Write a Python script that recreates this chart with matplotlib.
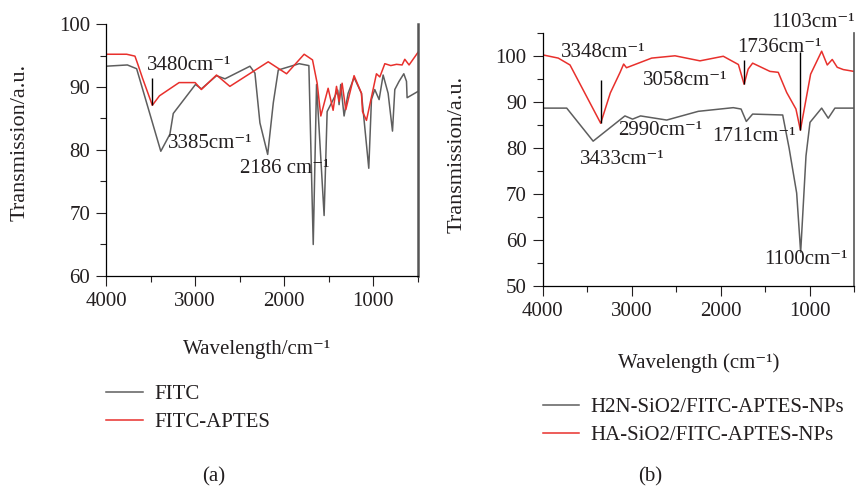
import numpy as np
import matplotlib
matplotlib.use("Agg")
import matplotlib.pyplot as plt
from matplotlib.ticker import MultipleLocator

plt.rcParams['font.family'] = ['Liberation Serif', 'DejaVu Serif']
plt.rcParams['font.size'] = 15
plt.rcParams['text.color'] = '#231f20'
plt.rcParams['axes.labelcolor'] = '#231f20'
plt.rcParams['xtick.color'] = '#231f20'
plt.rcParams['ytick.color'] = '#231f20'

# (a) FITC and FITC-APTES spectra
fitc_wn = [4000, 3760, 3656, 3385, 3283, 3245, 2996, 2930, 2760, 2665, 2385, 2329, 2273,
           2186, 2123, 2067, 1833, 1724, 1675, 1638, 1553, 1519, 1433, 1400, 1385, 1367,
           1329, 1284, 1217, 1134, 1052, 1022, 985, 936, 891, 835, 786, 760, 712, 659,
           629, 622, 500]
fitc_t = [93.3, 93.5, 92.9, 79.8, 82.5, 85.8, 90.4, 89.7, 91.8, 91.3, 93.3, 92.2, 84.3,
          79.3, 87.5, 92.7, 93.7, 93.4, 65.0, 90.4, 69.6, 86.1, 88.5, 89.5, 87.2, 90.4,
          85.4, 89.0, 91.5, 89.0, 77.1, 88.0, 89.6, 88.0, 91.9, 89.0, 83.0, 89.6, 90.9,
          92.1, 90.9, 88.3, 89.3]

aptes_wn = [4000, 3768, 3675, 3640, 3590, 3480, 3400, 3180, 3000, 2930, 2760, 2610, 2180,
            1974, 1777, 1683, 1631, 1590, 1508, 1452, 1414, 1385, 1351, 1310, 1217, 1134,
            1122, 1078, 966, 928, 872, 805, 741, 678, 648, 600, 500]
aptes_t = [95.2, 95.2, 94.9, 93.5, 91.4, 87.1, 88.6, 90.7, 90.7, 89.6, 91.9, 90.1, 94.0,
           92.1, 95.2, 94.3, 90.6, 85.4, 89.8, 86.3, 90.1, 87.7, 90.6, 86.4, 91.8, 89.0,
           86.1, 84.7, 92.1, 91.6, 93.7, 93.4, 93.6, 93.5, 94.4, 93.5, 95.5]

# (b) amino- and HA-modified silica nanoparticles
h2n_wn = [4000, 3730, 3433, 3076, 2990, 2900, 2606, 2251, 1858, 1770, 1711, 1640, 1302,
          1230, 1145, 1100, 1040, 995, 864, 790, 715, 500]
h2n_t = [88.7, 88.7, 81.5, 87.0, 86.3, 87.0, 86.1, 88.0, 88.8, 88.5, 85.8, 87.4, 87.2,
         80.0, 70.2, 57.3, 78.3, 85.6, 88.7, 86.5, 88.7, 88.7]

ha_wn = [4000, 3825, 3693, 3348, 3240, 3130, 3090, 3058, 2775, 2513, 2232, 1970, 1800,
         1736, 1690, 1640, 1445, 1352, 1257, 1153, 1103, 988, 864, 801, 745, 689, 621, 500]
ha_t = [100.3, 99.6, 98.1, 85.4, 92.0, 96.5, 98.3, 97.5, 99.6, 100.1, 99.0, 100.0, 98.2,
        93.9, 97.2, 98.5, 96.7, 96.5, 92.1, 88.5, 83.9, 96.1, 101.1, 98.1, 99.3, 97.6,
        97.1, 96.7]

# peak annotations: (wavenumber, series, text)
peaks_a = [(3480, 'aptes', '3480cm⁻¹'), (3385, 'fitc', '3385cm⁻¹'), (2186, 'fitc', '2186 cm⁻¹')]
peaks_b = [(3348, 'ha', '3348cm⁻¹'), (3058, 'ha', '3058cm⁻¹'), (2990, 'h2n', '2990cm⁻¹'),
           (3433, 'h2n', '3433cm⁻¹'), (1736, 'ha', '1736cm⁻¹'), (1103, 'ha', '1103cm⁻¹'),
           (1711, 'h2n', '1711cm⁻¹'), (1100, 'h2n', '1100cm⁻¹')]

GRAY = '#5e5e5e'
RED = '#e8302c'

series = {
    'fitc': (fitc_wn, fitc_t), 'aptes': (aptes_wn, aptes_t),
    'h2n': (h2n_wn, h2n_t), 'ha': (ha_wn, ha_t),
}


def value_at(key, wn):
    xs, ys = series[key]
    return np.interp(wn, xs[::-1], ys[::-1])


fig = plt.figure(figsize=(8.56, 4.87), dpi=100)
ax_a = fig.add_axes([0.1238, 0.4333, 0.3645, 0.5174])
ax_b = fig.add_axes([0.634, 0.4133, 0.3637, 0.5183])


def style_axes(ax, ylo, yhi):
    ax.set_xlim(4000, 500)
    ax.set_ylim(ylo, yhi)
    ax.xaxis.set_major_locator(MultipleLocator(1000))
    ax.xaxis.set_minor_locator(MultipleLocator(500))
    ax.yaxis.set_major_locator(MultipleLocator(10))
    ax.yaxis.set_minor_locator(MultipleLocator(5))
    ax.tick_params(which='major', direction='out', length=7.5, width=0.8, pad=4, labelsize=15)
    ax.tick_params(which='minor', direction='out', length=4, width=0.8)
    ax.spines['top'].set_visible(False)
    ax.spines['left'].set_linewidth(0.9)
    ax.spines['bottom'].set_linewidth(0.9)
    ax.spines['right'].set_color('#555555')


# panel (a)
ax_a.plot(fitc_wn, fitc_t, color=GRAY, lw=1.1, label='FITC')
ax_a.plot(aptes_wn, aptes_t, color=RED, lw=1.1, label='FITC-APTES')
style_axes(ax_a, 60, 100)
ax_a.spines['right'].set_linewidth(1.8)
ax_a.set_xlabel('Wavelength/cm⁻¹', fontsize=15)
ax_a.set_ylabel('Transmission/a.u.', fontsize=16)
ax_a.xaxis.set_label_coords(0.483, -0.255)
ax_a.yaxis.set_label_coords(-0.245, 0.53)

text_pos_a = [(3068, 93.4), (2835, 81.1), (1993, 77.1)]
pointer_a = {3480: 91.4}
for (wn, key, txt), (tx, ty) in zip(peaks_a, text_pos_a):
    ax_a.text(tx, ty, txt, ha='center', va='center', fontsize=15)
    if wn in pointer_a:
        ax_a.vlines(wn, value_at(key, wn), pointer_a[wn], color='black', lw=1)

ax_a.legend(loc='upper left', bbox_to_anchor=(0.124, 0.21), bbox_transform=fig.transFigure,
            frameon=False, fontsize=15, handlelength=1.75, handletextpad=0.55,
            labelspacing=0.4, borderpad=0, borderaxespad=0)

# panel (b)
ax_b.plot(h2n_wn, h2n_t, color=GRAY, lw=1.1, label='H2N-SiO2/FITC-APTES-NPs')
ax_b.plot(ha_wn, ha_t, color=RED, lw=1.1, label='HA-SiO2/FITC-APTES-NPs')
style_axes(ax_b, 50, 105)
ax_b.spines['right'].set_linewidth(1.2)
ax_b.set_xlabel('Wavelength (cm⁻¹)', fontsize=15)
ax_b.set_ylabel('Transmission/a.u.', fontsize=16)
ax_b.xaxis.set_label_coords(0.5, -0.268)
ax_b.yaxis.set_label_coords(-0.245, 0.522)

text_pos_b = [(3322, 100.9), (2400, 94.8), (2674, 83.9), (3109, 77.4),
              (1344, 101.9), (967, 107.4), (1625, 82.6), (1040, 55.8)]
pointer_b = {3348: 94.8, 1736: 99.2, 1103: 100.9}
for (wn, key, txt), (tx, ty) in zip(peaks_b, text_pos_b):
    ax_b.text(tx, ty, txt, ha='center', va='center', fontsize=15, clip_on=False)
    if wn in pointer_b:
        ax_b.vlines(wn, value_at(key, wn), pointer_b[wn], color='black', lw=1)

ax_b.legend(loc='upper left', bbox_to_anchor=(0.634, 0.184), bbox_transform=fig.transFigure,
            frameon=False, fontsize=15, handlelength=1.75, handletextpad=0.55,
            labelspacing=0.4, borderpad=0, borderaxespad=0)

fig.text(214 / 856, 1 - 477 / 487, '(a)', ha='center', va='center', fontsize=15)
fig.text(650 / 856, 1 - 476.7 / 487, '(b)', ha='center', va='center', fontsize=15)

fig.savefig('out.png', dpi=100, facecolor='white')
